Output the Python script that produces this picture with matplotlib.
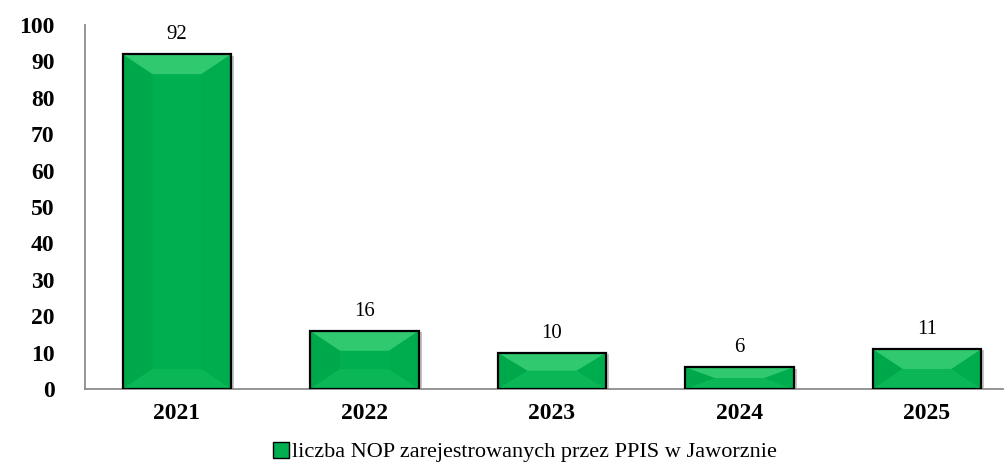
import matplotlib
matplotlib.use("Agg")
import matplotlib.pyplot as plt
from matplotlib.patches import Polygon, Rectangle
from matplotlib.lines import Line2D

years = ["2021", "2022", "2023", "2024", "2025"]
values = [92, 16, 10, 6, 11]
yticks = [0, 10, 20, 30, 40, 50, 60, 70, 80, 90, 100]
legend_label = "liczba NOP zarejestrowanych przez PPIS w Jaworznie"

plt.rcParams['font.family'] = ['Liberation Serif', 'DejaVu Serif']

fig = plt.figure(figsize=(10.08, 4.62), dpi=100)
ax = fig.add_axes([85/1008, 1-389/462, (1003-85)/1008, (389-25)/462])

x = list(range(len(years)))
width = 0.58
ax.set_xlim(-0.49, 4.405)
ax.set_ylim(0, 100)

# pixel -> data scales
px_x = (4.405 + 0.49) / (1003 - 85)
px_y = 100 / (389 - 25)
bev_x = 30 * px_x
bev_y = 20 * px_y

main = "#00B050"
for xi, v in zip(x, values):
    x0, x1 = xi - width/2, xi + width/2
    y0, y1 = 0, v
    by = min(bev_y, v/2)
    bx = min(bev_x, width/2)
    # shadow
    ax.add_patch(Rectangle((x0 + 3*px_x, y0), width, v - 1.5*px_y, facecolor="#c4c4c4",
                           edgecolor="none", zorder=1.5))
    ax.add_patch(Rectangle((x0, y0), width, v, facecolor=main, edgecolor="none", zorder=2))
    # left
    ax.add_patch(Polygon([(x0, y0), (x0+bx, y0+by), (x0+bx, y1-by), (x0, y1)],
                         closed=True, facecolor="#00A84C", edgecolor="none", zorder=2.1))
    # right
    ax.add_patch(Polygon([(x1, y0), (x1-bx, y0+by), (x1-bx, y1-by), (x1, y1)],
                         closed=True, facecolor="#00AD4E", edgecolor="none", zorder=2.1))
    # bottom
    ax.add_patch(Polygon([(x0, y0), (x1, y0), (x1-bx, y0+by), (x0+bx, y0+by)],
                         closed=True, facecolor="#0AB656", edgecolor="none", zorder=2.1))
    # top
    ax.add_patch(Polygon([(x0, y1), (x1, y1), (x1-bx, y1-by), (x0+bx, y1-by)],
                         closed=True, facecolor="#30C96F", edgecolor="none", zorder=2.1))
    ax.add_patch(Rectangle((x0, y0), width, v, facecolor="none", edgecolor="black",
                           linewidth=1.6, zorder=3))
    ax.text(xi, v + 2.7, str(v), ha="center", va="bottom", fontsize=15, color="black")

ax.set_xticks(x)
ax.set_xticklabels(years, fontsize=17, fontweight="bold")
ax.set_yticks(yticks)
ax.set_yticklabels([str(t) for t in yticks], fontsize=17, fontweight="bold")
ax.tick_params(axis="both", length=0)
ax.tick_params(axis="x", pad=10)
ax.tick_params(axis="y", pad=22)
for s in ["top", "right"]:
    ax.spines[s].set_visible(False)
for s in ["left", "bottom"]:
    ax.spines[s].set_color("#8c8c8c")
    ax.spines[s].set_linewidth(1.3)

handle = Line2D([], [], linestyle="none", marker="s", markersize=11,
                markerfacecolor=main, markeredgecolor="black", markeredgewidth=1)
fig.legend([handle], [legend_label], loc="center", bbox_to_anchor=(0.52, 1-452/462),
           frameon=False, fontsize=16, handletextpad=0.1, handlelength=0.8)

fig.savefig("out.png", dpi=100)
